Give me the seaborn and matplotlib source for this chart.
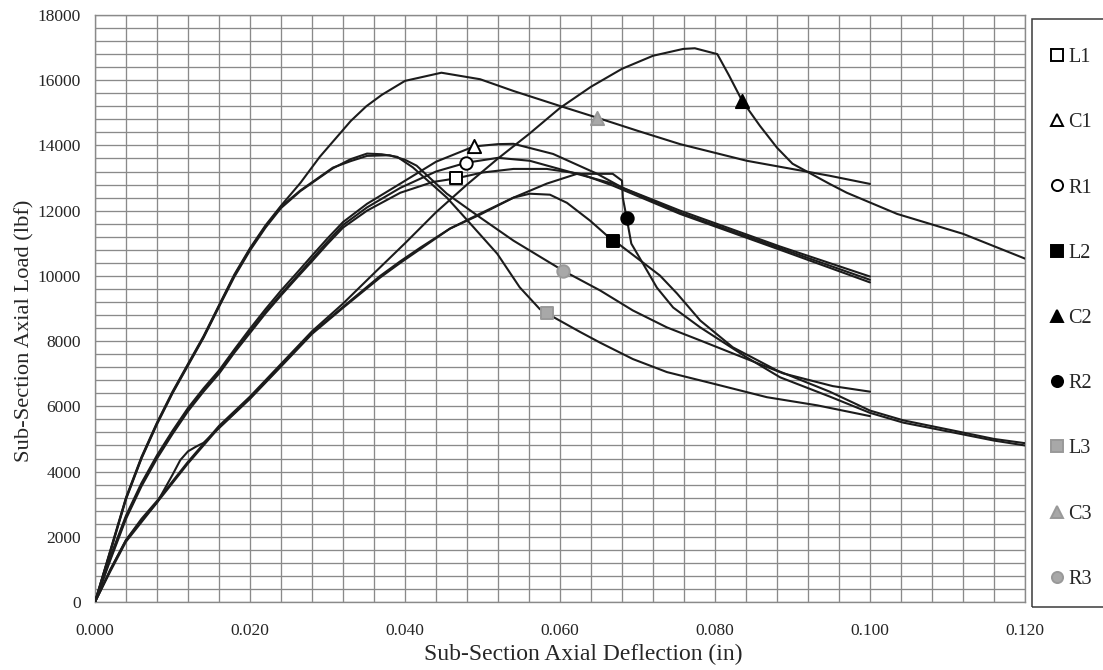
import numpy as np
import pandas as pd
import matplotlib
matplotlib.use("Agg")
import matplotlib.pyplot as plt
from matplotlib.lines import Line2D
from matplotlib.patches import Rectangle
from matplotlib.ticker import MultipleLocator, FormatStrFormatter
import seaborn as sns

# ---------------- data ----------------
series_names = ["L1", "C1", "R1", "L2", "C2", "R2", "L3", "C3", "R3"]

L1_x = [0, .002, .004, .006, .008, .010, .012, .014, .016, .018, .020, .022, .024, .026, .028, .030, .032,
        .0351, .0394, .0436, .0466, .050, .054, .0583, .0626, .0668, .0755, .0884, .100]
L1_y = [0, 1300, 2550, 3550, 4400, 5150, 5850, 6450, 7000, 7650, 8250, 8850, 9400, 9930, 10450, 10980, 11480,
        12000, 12550, 12880, 12990, 13170, 13280, 13280, 13130, 12770, 11900, 10800, 9800]

C1_x = [0, .002, .004, .006, .008, .010, .012, .014, .016, .018, .020, .022, .024, .026, .028, .030, .032,
        .0351, .0394, .044, .0489, .052, .054, .0591, .0648, .0681, .0755, .0884, .100]
C1_y = [0, 1400, 2650, 3650, 4500, 5250, 5950, 6550, 7100, 7750, 8380, 8980, 9550, 10080, 10620, 11150, 11650,
        12210, 12830, 13500, 13970, 14040, 14050, 13740, 13130, 12700, 12000, 10900, 9980]

R1_x = [0, .002, .004, .006, .008, .010, .012, .014, .016, .018, .020, .022, .024, .026, .028, .030, .032,
        .0351, .0394, .044, .0479, .052, .0561, .0617, .0668, .0755, .0884, .100]
R1_y = [0, 1350, 2600, 3600, 4450, 5200, 5900, 6500, 7050, 7700, 8300, 8900, 9450, 9980, 10520, 11050, 11560,
        12100, 12700, 13200, 13470, 13620, 13530, 13160, 12830, 11940, 10850, 9880]

L2_x = [0, .002, .004, .006, .008, .010, .012, .014, .016, .018, .020, .024, .028, .032, .0368, .0394, .042,
        .0458, .0497, .054, .0561, .0587, .0609, .0639, .0668, .0675, .0707, .0729, .0751, .0781, .0823, .088,
        .0948, .100, .1043, .1107, .116, .120]
L2_y = [0, 1000, 1900, 2500, 3050, 3650, 4250, 4800, 5350, 5800, 6250, 7250, 8250, 9050, 10000, 10450, 10870,
        11450, 11880, 12400, 12520, 12490, 12240, 11690, 11080, 10990, 10410, 10010, 9460, 8630, 7810, 7100,
        6450, 5870, 5570, 5260, 5000, 4870]

C2_x = [0, .002, .004, .006, .008, .010, .012, .014, .016, .018, .020, .024, .028, .032, .036, .040, .044,
        .048, .052, .056, .060, .064, .068, .072, .0759, .0774, .0803, .0818, .0835, .0858, .088, .090, .0948,
        .097, .1035, .112, .120]
C2_y = [0, 1000, 1900, 2550, 3100, 3700, 4300, 4850, 5400, 5850, 6300, 7300, 8300, 9150, 10080, 11000, 11950,
        12800, 13600, 14350, 15150, 15800, 16350, 16750, 16960, 16980, 16800, 16150, 15370, 14600, 13930, 13440,
        12820, 12550, 11900, 11290, 10530]

R2_x = [0, .002, .004, .006, .008, .010, .011, .012, .013, .014, .016, .018, .020, .024, .028, .032, .0368,
        .0394, .0458, .0497, .054, .0583, .0622, .0668, .068, .0681, .0686, .0692, .0707, .0725, .0746, .0781,
        .0841, .0884, .0948, .100, .1043, .1107, .116, .120]
R2_y = [0, 950, 1850, 2450, 3050, 3900, 4350, 4620, 4760, 4880, 5330, 5780, 6230, 7220, 8220, 9020, 9950,
        10400, 11450, 11910, 12400, 12830, 13130, 13130, 12920, 12400, 11780, 10990, 10380, 9640, 9030, 8420,
        7500, 6890, 6300, 5800, 5500, 5200, 4950, 4800]

L3_x = [0, .002, .004, .006, .008, .010, .012, .014, .016, .018, .020, .022, .024, .0265, .0307, .033, .0351,
        .037, .039, .041, .0454, .0481, .0519, .0548, .0574, .0583, .0626, .0652, .0694, .0738, .0797, .0867,
        .0932, .100]
L3_y = [0, 1550, 3150, 4400, 5450, 6400, 7250, 8100, 9050, 9980, 10780, 11480, 12080, 12600, 13300, 13580, 13750,
        13730, 13650, 13330, 12400, 11690, 10680, 9650, 8980, 8850, 8280, 7950, 7450, 7050, 6700, 6280,
        6030, 5700]

C3_x = [0, .002, .004, .006, .008, .010, .012, .014, .016, .018, .020, .022, .024, .0265, .029, .033, .035,
        .037, .040, .0447, .0497, .054, .060, .0648, .070, .0755, .0841, .0948, .100]
C3_y = [0, 1600, 3200, 4450, 5500, 6450, 7300, 8150, 9100, 10050, 10850, 11550, 12150, 12850, 13650, 14750, 15200,
        15550, 15980, 16230, 16030, 15670, 15210, 14850, 14450, 14040, 13530, 13070, 12820]

R3_x = [0, .002, .004, .006, .008, .010, .012, .014, .016, .018, .020, .022, .024, .0265, .0307, .033, .0351,
        .038, .040, .0415, .0454, .0497, .054, .0604, .0652, .0694, .0738, .0781, .0836, .0888, .0952, .100]
R3_y = [0, 1580, 3180, 4420, 5480, 6420, 7280, 8120, 9080, 10020, 10820, 11520, 12120, 12620, 13320, 13520, 13680,
        13700, 13560, 13380, 12520, 11790, 11080, 10160, 9550, 8940, 8420, 8020, 7500, 7010, 6620, 6450]

# the single marked point on each curve
marker_x = [0.0466, 0.0489, 0.0479, 0.0668, 0.0835, 0.0686, 0.0583, 0.0648, 0.0604]
marker_y = [12990, 13970, 13470, 11080, 15370, 11780, 8850, 14850, 10160]

x_ticks = [0.000, 0.020, 0.040, 0.060, 0.080, 0.100, 0.120]
y_ticks = [0, 2000, 4000, 6000, 8000, 10000, 12000, 14000, 16000, 18000]
x_label = "Sub-Section Axial Deflection (in)"
y_label = "Sub-Section Axial Load (lbf)"

curves = {
    "L1": (L1_x, L1_y), "C1": (C1_x, C1_y), "R1": (R1_x, R1_y),
    "L2": (L2_x, L2_y), "C2": (C2_x, C2_y), "R2": (R2_x, R2_y),
    "L3": (L3_x, L3_y), "C3": (C3_x, C3_y), "R3": (R3_x, R3_y),
}

# ---------------- style ----------------
sns.set_style("white")
plt.rcParams["font.family"] = ["Liberation Serif", "DejaVu Serif"]

GRAY_M = "#a8a8a8"
marker_style = {
    "L1": dict(marker="s", face="white", edge="black"),
    "C1": dict(marker="^", face="white", edge="black"),
    "R1": dict(marker="o", face="white", edge="black"),
    "L2": dict(marker="s", face="black", edge="black"),
    "C2": dict(marker="^", face="black", edge="black"),
    "R2": dict(marker="o", face="black", edge="black"),
    "L3": dict(marker="s", face=GRAY_M, edge="#999999"),
    "C3": dict(marker="^", face=GRAY_M, edge="#999999"),
    "R3": dict(marker="o", face=GRAY_M, edge="#999999"),
}

W, H = 1103, 670
fig = plt.figure(figsize=(W / 100, H / 100), dpi=100)
ax = fig.add_axes([95 / W, (H - 602) / H, 930 / W, 587 / H])

GRID = "#8a8a8a"
ax.set_xlim(0, 0.120)
ax.set_ylim(0, 18000)
ax.xaxis.set_minor_locator(MultipleLocator(0.004))
ax.yaxis.set_minor_locator(MultipleLocator(400))
ax.set_xticks(x_ticks)
ax.set_yticks(y_ticks)
ax.xaxis.set_major_formatter(FormatStrFormatter("%.3f"))
ax.yaxis.set_major_formatter(FormatStrFormatter("%d"))
ax.grid(which="both", color=GRID, lw=0.95, zorder=0)
ax.set_axisbelow(True)
ax.tick_params(axis="both", which="major", length=4, width=0.9, color=GRID,
               labelsize=12.5, direction="out")
ax.tick_params(axis="x", which="major", pad=11)
ax.tick_params(axis="y", which="major", pad=6)
ax.tick_params(axis="both", which="minor", length=0)
for s in ax.spines.values():
    s.set_color(GRID)
    s.set_linewidth(1.0)

# curves
for name in series_names:
    xs, ys = curves[name]
    sns.lineplot(x=xs, y=ys, ax=ax, color="#1c1c1c", lw=1.5, sort=False,
                 estimator=None, zorder=3)

# markers
for i, name in enumerate(series_names):
    st = marker_style[name]
    sns.scatterplot(x=[marker_x[i]], y=[marker_y[i]], ax=ax, marker=st["marker"],
                    s=80 if st["marker"] != "^" else 90, facecolor=st["face"],
                    edgecolor=st["edge"], linewidth=1.4, zorder=5)

ax.set_xlabel(x_label, fontsize=17)
ax.set_ylabel(y_label, fontsize=16.2)
ax.xaxis.set_label_coords((583 - 95) / 930, (602 - 644) / 587)
ax.yaxis.set_label_coords((34 - 95) / 930, (602 - 331) / 587)

# legend (markers only) in a box running off the right edge
handles = []
for name in series_names:
    st = marker_style[name]
    handles.append(Line2D([], [], linestyle="none", marker=st["marker"], markersize=8,
                          markerfacecolor=st["face"], markeredgecolor=st["edge"],
                          markeredgewidth=1.4))
leg = fig.legend(handles, series_names, loc="upper left",
                 bbox_to_anchor=(1051 / W, 1 - 48 / H), frameon=False,
                 fontsize=14.5, labelspacing=2.29, handlelength=0.6,
                 handletextpad=0.25, borderpad=0, borderaxespad=0)
fig.add_artist(Rectangle((1032 / W, 1 - 607 / H), 90 / W, (607 - 19) / H,
                         transform=fig.transFigure, fill=False,
                         edgecolor="#3a3a3a", lw=1.1, clip_on=False))

fig.savefig("out.png", dpi=100, facecolor="white")
